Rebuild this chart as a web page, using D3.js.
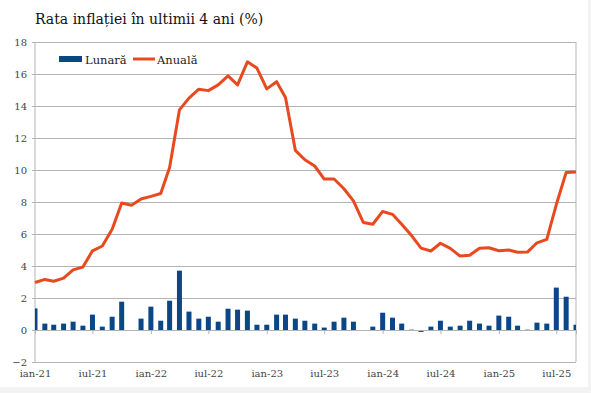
<!DOCTYPE html>
<html lang="ro">
<head>
<meta charset="UTF-8">
<title>Rata inflației</title>
<script src="https://cdn.jsdelivr.net/npm/d3@7"></script>
<style>
  html, body { margin: 0; padding: 0; background: #f3f3f3; }
  svg { display: block; }
</style>
</head>
<body>
<div class="chart"></div>
<script>
  // luni ian-2021 .. sep-2025
  const startMonth = new Date(2021, 0, 1);
  const anuala = [
    2.97, 3.16, 3.05, 3.24, 3.76, 3.94, 4.95, 5.25, 6.29, 7.94, 7.80, 8.19,
    8.35, 8.53, 10.15, 13.76, 14.49, 15.05, 14.96, 15.32, 15.88, 15.32, 16.76, 16.37,
    15.07, 15.52, 14.53, 11.23, 10.64, 10.25, 9.43, 9.44, 8.83, 8.07, 6.72, 6.61,
    7.41, 7.23, 6.61, 5.90, 5.12, 4.94, 5.42, 5.10, 4.62, 4.67, 5.11, 5.14,
    4.95, 5.00, 4.86, 4.87, 5.45, 5.66, 7.84, 9.85, 9.88
  ];
  const lunara = [
    1.35, 0.40, 0.33, 0.40, 0.52, 0.27, 0.96, 0.21, 0.83, 1.77, 0.00, 0.71,
    1.46, 0.58, 1.83, 3.71, 1.15, 0.71, 0.83, 0.52, 1.33, 1.27, 1.21, 0.33,
    0.33, 0.96, 0.96, 0.71, 0.58, 0.40, 0.15, 0.52, 0.77, 0.52, 0.00, 0.21,
    1.08, 0.77, 0.40, 0.02, -0.12, 0.21, 0.58, 0.21, 0.27, 0.58, 0.40, 0.27,
    0.90, 0.83, 0.27, 0.02, 0.46, 0.40, 2.65, 2.08, 0.33
  ];
  const yTicks = [-2, 0, 2, 4, 6, 8, 10, 12, 14, 16, 18];
  const lunileRo = ["ian", "feb", "mar", "apr", "mai", "iun", "iul", "aug", "sep", "oct", "noi", "dec"];

  const data = anuala.map((a, i) => ({
    date: d3.timeMonth.offset(startMonth, i),
    anuala: a,
    lunara: lunara[i]
  }));

  const FONT = "DejaVu Serif, Liberation Serif, serif";
  const W = 591, H = 393;
  const margin = { top: 42, right: 15, bottom: 31, left: 35 };
  const width = 576 - margin.left, height = 362 - margin.top;

  const root = d3.select('.chart').append('svg').attr('width', W).attr('height', H)
    .attr('font-family', FONT);
  root.append('rect').attr('width', 588).attr('height', 387).attr('fill', '#ffffff');

  root.append('text').attr('x', 35).attr('y', 24)
    .attr('font-family', FONT)
    .attr('font-size', 14).attr('fill', '#111')
    .text('Rata inflației în ultimii 4 ani (%)');

  const svg = root.append('g').attr('transform', `translate(${margin.left} ${margin.top})`);

  const xScale = d3.scaleTime().domain(d3.extent(data, d => d.date)).range([0, width]);
  const yScale = d3.scaleLinear().domain([-2, 18]).range([height, 0]);

  // grila
  const yAxis = d3.axisLeft(yScale).tickValues(yTicks).tickSize(-width - 3).tickPadding(5).tickFormat(d3.format('d'));
  const gy = svg.append('g').attr('transform', 'translate(-3 0)').call(yAxis).attr('font-family', FONT);
  gy.select('.domain').remove();
  gy.selectAll('line').attr('stroke', '#b3b3b3');
  gy.selectAll('text').attr('font-size', 10).attr('fill', '#444');

  svg.append('line').attr('x1', 0).attr('x2', 0).attr('y1', 0).attr('y2', height).attr('stroke', '#b3b3b3');
  svg.append('line').attr('x1', width).attr('x2', width).attr('y1', 0).attr('y2', height).attr('stroke', '#b3b3b3');

  svg.append('clipPath').attr('id', 'plot').append('rect').attr('width', width).attr('height', height);

  const barW = 5;
  svg.append('g').attr('clip-path', 'url(#plot)')
    .selectAll('rect').data(data).join('rect')
    .attr('x', d => xScale(d.date) - barW / 2)
    .attr('y', d => yScale(Math.max(0, d.lunara)))
    .attr('width', barW)
    .attr('height', d => Math.abs(yScale(d.lunara) - yScale(0)))
    .attr('fill', '#0b4787');

  // axa x pe linia 0
  const xAxis = d3.axisBottom(xScale)
    .tickValues(d3.range(0, data.length, 6).map(i => data[i].date))
    .tickSize(4)
    .tickFormat(d => lunileRo[d.getMonth()] + '-' + String(d.getFullYear()).slice(2));
  const gx = svg.append('g').attr('transform', `translate(0 ${yScale(0)})`).call(xAxis).attr('font-family', FONT);
  gx.select('.domain').attr('stroke', '#b3b3b3');
  gx.selectAll('line').attr('stroke', '#b3b3b3');
  gx.selectAll('text').attr('y', height - yScale(0) + 8).attr('font-size', 10).attr('fill', '#444');

  const line = d3.line().x(d => xScale(d.date)).y(d => yScale(d.anuala));
  svg.append('path').attr('d', line(data))
    .attr('fill', 'none').attr('stroke', '#e84a1f').attr('stroke-width', 3).attr('stroke-linejoin', 'round');

  // legenda
  const leg = svg.append('g').attr('transform', 'translate(24 17)');
  leg.append('rect').attr('x', 0).attr('y', -3).attr('width', 23).attr('height', 6).attr('fill', '#0b4787');
  leg.append('text').attr('x', 26).attr('y', 4.5).attr('font-size', 11.5).attr('fill', '#222').text('Lunară');
  leg.append('line').attr('x1', 74).attr('x2', 96).attr('y1', 0).attr('y2', 0).attr('stroke', '#e84a1f').attr('stroke-width', 3);
  leg.append('text').attr('x', 98).attr('y', 4.5).attr('font-size', 11.5).attr('fill', '#222').text('Anuală');
</script>
</body>
</html>
